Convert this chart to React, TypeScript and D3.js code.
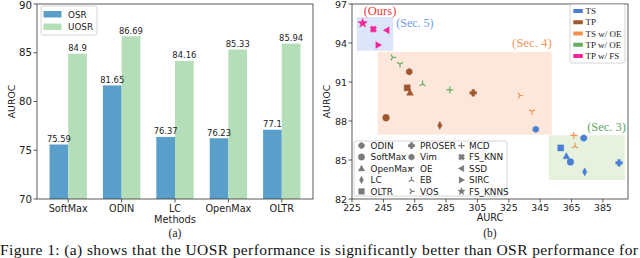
import React from "react";
import * as d3 from "d3";

// ---- panel (a) data ----
const categories = ["SoftMax", "ODIN", "LC", "OpenMax", "OLTR"];
const osrValues = [75.59, 81.65, 76.37, 76.23, 77.1];
const uosrValues = [84.9, 86.69, 84.16, 85.33, 85.94];
const aYTicks = [70, 75, 80, 85, 90];

// ---- panel (b) data: [method, AURC, AUROC] ----
const tsPoints: [string, number, number][] = [
  ["Vim", 342.2, 87.36],
  ["ODIN", 372.8, 86.69],
  ["OLTR", 358.1, 85.93],
  ["OpenMax", 361.7, 85.29],
  ["SoftMax", 364.3, 84.85],
  ["LC", 373.4, 84.09],
  ["PROSER", 395.3, 84.78],
];
const tpPoints: [string, number, number][] = [
  ["Vim", 261.5, 91.79],
  ["OLTR", 260.2, 90.55],
  ["OpenMax", 262, 90.17],
  ["PROSER", 302.3, 90.17],
  ["SoftMax", 246.7, 88.25],
  ["LC", 281, 87.66],
];
const tsOePoints: [string, number, number][] = [
  ["VOS", 332, 89.96],
  ["OE", 339.8, 88.73],
  ["MCD", 366.4, 86.9],
  ["EB", 367.2, 86.06],
];
const tpOePoints: [string, number, number][] = [
  ["VOS", 250.9, 92.89],
  ["OE", 255.6, 92.38],
  ["EB", 270, 90.85],
  ["MCD", 287.4, 90.39],
];
const tpFsPoints: [string, number, number][] = [
  ["FS_KNNS", 231.8, 95.52],
  ["FS_KNN", 238.6, 95.06],
  ["SSD", 247.1, 94.98],
  ["SIRC", 241.8, 93.84],
];
// shaded sections: [x0, x1, y0, y1]
const sec5 = [228, 251.3, 93.4, 96.0];
const sec4 = [241.4, 352.4, 86.95, 93.32];
const sec3 = [350.4, 399.1, 83.45, 86.9];

const bXTicks = [225, 245, 265, 285, 305, 325, 345, 365, 385];
const bYTicks = [82, 85, 88, 91, 94, 97];
const groupNames = ["TS", "TP", "TS w/ OE", "TP w/ OE", "TP w/ FS"];
const groupColors = ["#4a7fd6", "#a0562f", "#f4914f", "#62ad5e", "#f0259a"];
const legendMethods = [
  ["ODIN", "SoftMax", "OpenMax", "LC", "OLTR"],
  ["PROSER", "Vim", "OE", "EB", "VOS"],
  ["MCD", "FS_KNN", "SSD", "SIRC", "FS_KNNS"],
];

const SANS = "DejaVu Sans";
const SERIF = "Liberation Serif";

const lineMarkers = new Set(["OE", "EB", "VOS", "MCD"]);

function poly(pts: [number, number][]) {
  return "M" + pts.map((p) => p[0].toFixed(2) + "," + p[1].toFixed(2)).join("L") + "Z";
}

function markerPath(m: string, r: number) {
  switch (m) {
    case "SoftMax":
      return d3.symbol(d3.symbolCircle, Math.PI * r * r)() as string;
    case "ODIN":
      return poly(d3.range(8).map((k) => {
        const a = Math.PI / 8 + (k * Math.PI) / 4;
        return [r * Math.cos(a), r * Math.sin(a)];
      }));
    case "Vim":
      return poly(d3.range(6).map((k) => {
        const a = -Math.PI / 2 + (k * Math.PI) / 3;
        return [r * Math.cos(a), r * Math.sin(a)];
      }));
    case "OpenMax":
      return poly([[0, -r * 1.1], [r, r * 0.75], [-r, r * 0.75]]);
    case "LC":
      return poly([[0, -r * 1.2], [r * 0.65, 0], [0, r * 1.2], [-r * 0.65, 0]]);
    case "OLTR":
      return poly([[-r * 0.9, -r * 0.9], [r * 0.9, -r * 0.9], [r * 0.9, r * 0.9], [-r * 0.9, r * 0.9]]);
    case "PROSER": {
      const a = r, b = r * 0.4;
      return poly([[-b, -a], [b, -a], [b, -b], [a, -b], [a, b], [b, b], [b, a], [-b, a], [-b, b], [-a, b], [-a, -b], [-b, -b]]);
    }
    case "FS_KNN": {
      const a = r, b = r * 0.4;
      const c = Math.SQRT1_2;
      const pts: [number, number][] = [[-b, -a], [b, -a], [b, -b], [a, -b], [a, b], [b, b], [b, a], [-b, a], [-b, b], [-a, b], [-a, -b], [-b, -b]];
      return poly(pts.map(([x, y]) => [c * (x - y), c * (x + y)]));
    }
    case "SSD":
      return poly([[-r, 0], [r * 0.75, -r], [r * 0.75, r]]);
    case "SIRC":
      return poly([[r, 0], [-r * 0.75, -r], [-r * 0.75, r]]);
    case "FS_KNNS":
      return poly(d3.range(10).map((k) => {
        const a = -Math.PI / 2 + (k * Math.PI) / 5;
        const rr = k % 2 === 0 ? r : r * 0.42;
        return [rr * Math.cos(a), rr * Math.sin(a)];
      }));
    case "OE":
      return `M0,0L0,${r}M0,0L${-0.866 * r},${-0.5 * r}M0,0L${0.866 * r},${-0.5 * r}`;
    case "EB":
      return `M0,0L0,${-r}M0,0L${-0.866 * r},${0.5 * r}M0,0L${0.866 * r},${0.5 * r}`;
    case "VOS":
      return `M0,0L${r},0M0,0L${-0.5 * r},${-0.866 * r}M0,0L${-0.5 * r},${0.866 * r}`;
    case "MCD":
      return `M${-r},0H${r}M0,${-r}V${r}`;
  }
  return "";
}

function Marker({ m, x, y, color, r }: { m: string; x: number; y: number; color: string; r: number }) {
  const line = lineMarkers.has(m);
  return (
    <path
      d={markerPath(m, r)}
      transform={`translate(${x},${y})`}
      fill={line ? "none" : color}
      stroke={color}
      strokeWidth={line ? 1.2 : 0.6}
      strokeOpacity={line ? 1 : 0.6}
    />
  );
}

function PanelA() {
  const left = 37, right = 313, top = 4, bottom = 199;
  const x = d3.scaleLinear().domain([-0.585, 4.585]).range([left, right]);
  const y = d3.scaleLinear().domain([70, 90]).range([bottom, top]);
  const w = 0.35;
  return (
    <g>
      {categories.map((c, i) => (
        <g key={c}>
          <rect x={x(i - w)} width={x(i) - x(i - w)} y={y(osrValues[i])} height={bottom - y(osrValues[i])} fill="#5a9fca" />
          <rect x={x(i)} width={x(i + w) - x(i)} y={y(uosrValues[i])} height={bottom - y(uosrValues[i])} fill="#b3deb8" />
          <text x={x(i - w / 2)} y={y(osrValues[i]) - 2.5} textAnchor="middle" fontSize={8.4} fontFamily={SANS} fill="#222">
            {String(osrValues[i])}
          </text>
          <text x={x(i + w / 2)} y={y(uosrValues[i]) - 2.5} textAnchor="middle" fontSize={8.4} fontFamily={SANS} fill="#222">
            {String(uosrValues[i])}
          </text>
          <line x1={x(i)} x2={x(i)} y1={bottom} y2={bottom + 3.5} stroke="#333" strokeWidth={0.8} />
          <text x={x(i)} y={bottom + 12.5} textAnchor="middle" fontSize={9.7} fontFamily={SANS} fill="#222">
            {c}
          </text>
        </g>
      ))}
      {aYTicks.map((t) => (
        <g key={t}>
          <line x1={left - 3.5} x2={left} y1={y(t)} y2={y(t)} stroke="#333" strokeWidth={0.8} />
          <text x={left - 5} y={Math.max(y(t) + 3.6, 8.6)} textAnchor="end" fontSize={10.2} fontFamily={SANS} fill="#222">
            {t}
          </text>
        </g>
      ))}
      <rect x={left} y={top} width={right - left} height={bottom - top} fill="none" stroke="#333" strokeWidth={0.8} />
      <text transform={`translate(15,${(top + bottom) / 2}) rotate(-90)`} textAnchor="middle" fontSize={9.4} fontFamily={SANS} fill="#222">
        AUROC
      </text>
      <text x={(left + right) / 2} y={223} textAnchor="middle" fontSize={9.8} fontFamily={SANS} fill="#222">
        Methods
      </text>
      <text x={(left + right) / 2} y={237} textAnchor="middle" fontSize={11.5} fontFamily={SERIF} fill="#222">
        (a)
      </text>
      {/* legend */}
      <rect x={41} y={6} width={56} height={29} rx={2} fill="#fff" fillOpacity={0.85} stroke="#ccc" strokeWidth={0.8} />
      <rect x={43.5} y={11} width={18} height={6.5} fill="#5a9fca" />
      <text x={68} y={17.5} fontSize={8.8} fontFamily={SANS} fill="#222">OSR</text>
      <rect x={43.5} y={23.5} width={18} height={6.5} fill="#b3deb8" />
      <text x={68} y={30} fontSize={8.8} fontFamily={SANS} fill="#222">UOSR</text>
    </g>
  );
}

function PanelB() {
  const left = 352, right = 628, top = 4, bottom = 199;
  const x = d3.scaleLinear().domain([225, 401]).range([left, right]);
  const y = d3.scaleLinear().domain([82, 97]).range([bottom, top]);
  const box = (s: number[], fill: string) => (
    <rect x={x(s[0])} y={y(s[3])} width={x(s[1]) - x(s[0])} height={y(s[2]) - y(s[3])} fill={fill} />
  );
  const groups = [tsPoints, tpPoints, tsOePoints, tpOePoints, tpFsPoints];
  return (
    <g>
      {box(sec5, "#dce5f9")}
      {box(sec4, "#fce7da")}
      {box(sec3, "#e6f1de")}
      {groups.map((g, gi) =>
        g.map(([m, ax, ay]) => (
          <Marker key={gi + m} m={m} x={x(ax)} y={y(ay)} color={groupColors[gi]} r={m === "FS_KNNS" ? 5 : 3.4} />
        ))
      )}
      <text x={380} y={15} textAnchor="middle" fontSize={12.5} fontFamily={SERIF} fill="#f23a3a">(Ours)</text>
      <text x={x(sec5[1]) + 3} y={26.5} fontSize={12} fontFamily={SERIF} fill="#6f9be8">(Sec. 5)</text>
      <text x={x(sec4[1])} y={47} textAnchor="end" fontSize={12.8} fontFamily={SERIF} fill="#f4945a">(Sec. 4)</text>
      <text x={x(sec3[1]) + 1} y={131} textAnchor="end" fontSize={12.5} fontFamily={SERIF} fill="#62a862">(Sec. 3)</text>
      {bXTicks.map((t) => (
        <g key={t}>
          <line x1={x(t)} x2={x(t)} y1={bottom} y2={bottom + 3.5} stroke="#333" strokeWidth={0.8} />
          <text x={x(t)} y={bottom + 11.5} textAnchor="middle" fontSize={9.3} fontFamily={SANS} fill="#222">{t}</text>
        </g>
      ))}
      {bYTicks.map((t) => (
        <g key={t}>
          <line x1={left - 3.5} x2={left} y1={y(t)} y2={y(t)} stroke="#333" strokeWidth={0.8} />
          <text x={left - 5} y={Math.max(y(t) + 3.5, 8.2)} textAnchor="end" fontSize={9.5} fontFamily={SANS} fill="#222">{t}</text>
        </g>
      ))}
      <rect x={left} y={top} width={right - left} height={bottom - top} fill="none" stroke="#333" strokeWidth={0.8} />
      <text transform={`translate(330,${(top + bottom) / 2}) rotate(-90)`} textAnchor="middle" fontSize={9.4} fontFamily={SANS} fill="#222">
        AUROC
      </text>
      <text x={(left + right) / 2} y={221} textAnchor="middle" fontSize={9.7} fontFamily={SANS} fill="#222">AURC</text>
      <text x={(left + right) / 2} y={237} textAnchor="middle" fontSize={11.5} fontFamily={SERIF} fill="#222">(b)</text>
      {/* colour legend */}
      <rect x={570} y={4.5} width={55} height={58.5} rx={2} fill="#fff" fillOpacity={0.85} stroke="#ccc" strokeWidth={0.8} />
      {groupNames.map((g, i) => (
        <g key={g}>
          <rect x={573.3} y={9 + i * 11.25} width={9.5} height={4} fill={groupColors[i]} />
          <text x={585.5} y={14.2 + i * 11.25} fontSize={9} fontFamily={SERIF} fill="#222">{g}</text>
        </g>
      ))}
      {/* method legend */}
      <rect x={354} y={141} width={153} height={55} rx={2} fill="#fff" fillOpacity={0.85} stroke="#ccc" strokeWidth={0.8} />
      {legendMethods.map((col, ci) =>
        col.map((m, ri) => (
          <g key={m}>
            <Marker m={m} x={[361.5, 411.5, 461.5][ci]} y={145.6 + ri * 11.45} color="#7a7a7a" r={m === "FS_KNNS" ? 4 : 3.2} />
            <text x={[370.5, 420, 469][ci]} y={148.9 + ri * 11.45} fontSize={8.9} fontFamily={SANS} fill="#222">{m}</text>
          </g>
        ))
      )}
    </g>
  );
}

export default function App() {
  return (
    <svg width={640} height={258} style={{ position: "absolute", left: 0, top: 0, background: "#fff" }}>
      <rect width={640} height={258} fill="#fff" />
      <PanelA />
      <PanelB />
      <text x={0} y={254.5} fontSize={15.5} fontFamily={SERIF} fill="#111" textLength={638} lengthAdjust="spacing">
        Figure 1: (a) shows that the UOSR performance is significantly better than OSR performance for
      </text>
    </svg>
  );
}
